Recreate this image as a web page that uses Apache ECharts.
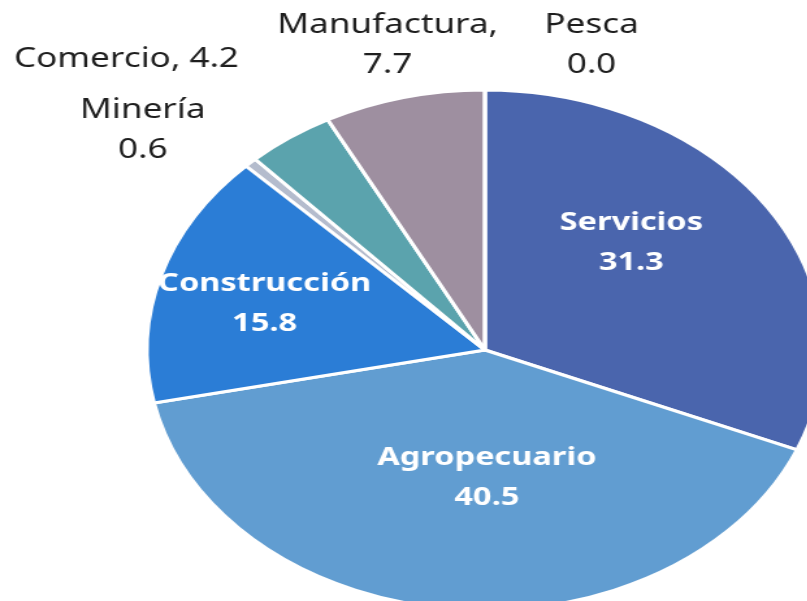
<!DOCTYPE html>
<html>
<head>
<meta charset="utf-8">
<script src="https://cdn.jsdelivr.net/npm/echarts@6/dist/echarts.min.js"></script>
<style>
  html, body { margin: 0; padding: 0; background: #fff; overflow: hidden; }
  /* el gráfico original está estirado en horizontal */
  #pieBox { width: 621px; height: 601px; transform: scaleX(1.3); transform-origin: 0 0; }
</style>
</head>
<body>
<div id="pieBox"></div>
<script>
 // datos
 var sectores = ['Servicios', 'Agropecuario', 'Construcción', 'Minería', 'Comercio', 'Manufactura', 'Pesca'];
 var valores = [31.3, 40.5, 15.8, 0.6, 4.2, 7.7, 0.0];

 // estilos por sector
 var colores = ['#4a65ad', '#619dd1', '#2b7dd6', '#b4bccd', '#5ba3ad', '#9e8fa0', '#c9bcc9'];
 var dentro = [true, true, true, false, false, false, false];
 var desplaz = [[2, -33], [14, -5], [-42, -8], [-171, -124], [-199, -182], [-43, -176], [82, -172]];
 var formatos = ['{b}\n{c}', '{b}\n{c}', '{b}\n{c}', '{b}\n{c}', '{b}, {c}', '{b},\n{c}', '{b}\n{c}'];

 var pieChart = echarts.init(document.getElementById('pieBox'));

 var datos = sectores.map(function (s, i) {
     return {
         name: s,
         value: valores[i],
         itemStyle: { color: colores[i] },
         label: {
             formatter: function (p) {
                 return formatos[i].replace('{b}', p.name).replace('{c}', p.value.toFixed(1));
             },
             offset: desplaz[i],
             color: dentro[i] ? '#ffffff' : '#1e1e1e',
             fontWeight: dentro[i] ? 'bold' : 'normal',
             fontSize: dentro[i] ? 25 : 27
         }
     };
 });

 var option = {
     animation: false,
     series: [{
         type: 'pie',
         center: [373, 350],
         radius: 260,
         startAngle: 90,
         clockwise: true,
         avoidLabelOverlap: false,
         itemStyle: { borderColor: '#fff', borderWidth: 3 },
         label: {
             show: true,
             position: 'inside',
             fontFamily: 'Noto Sans',
             lineHeight: 40
         },
         labelLine: { show: false },
         data: datos
     }]
 };

 pieChart.setOption(option);
</script>
</body>
</html>
